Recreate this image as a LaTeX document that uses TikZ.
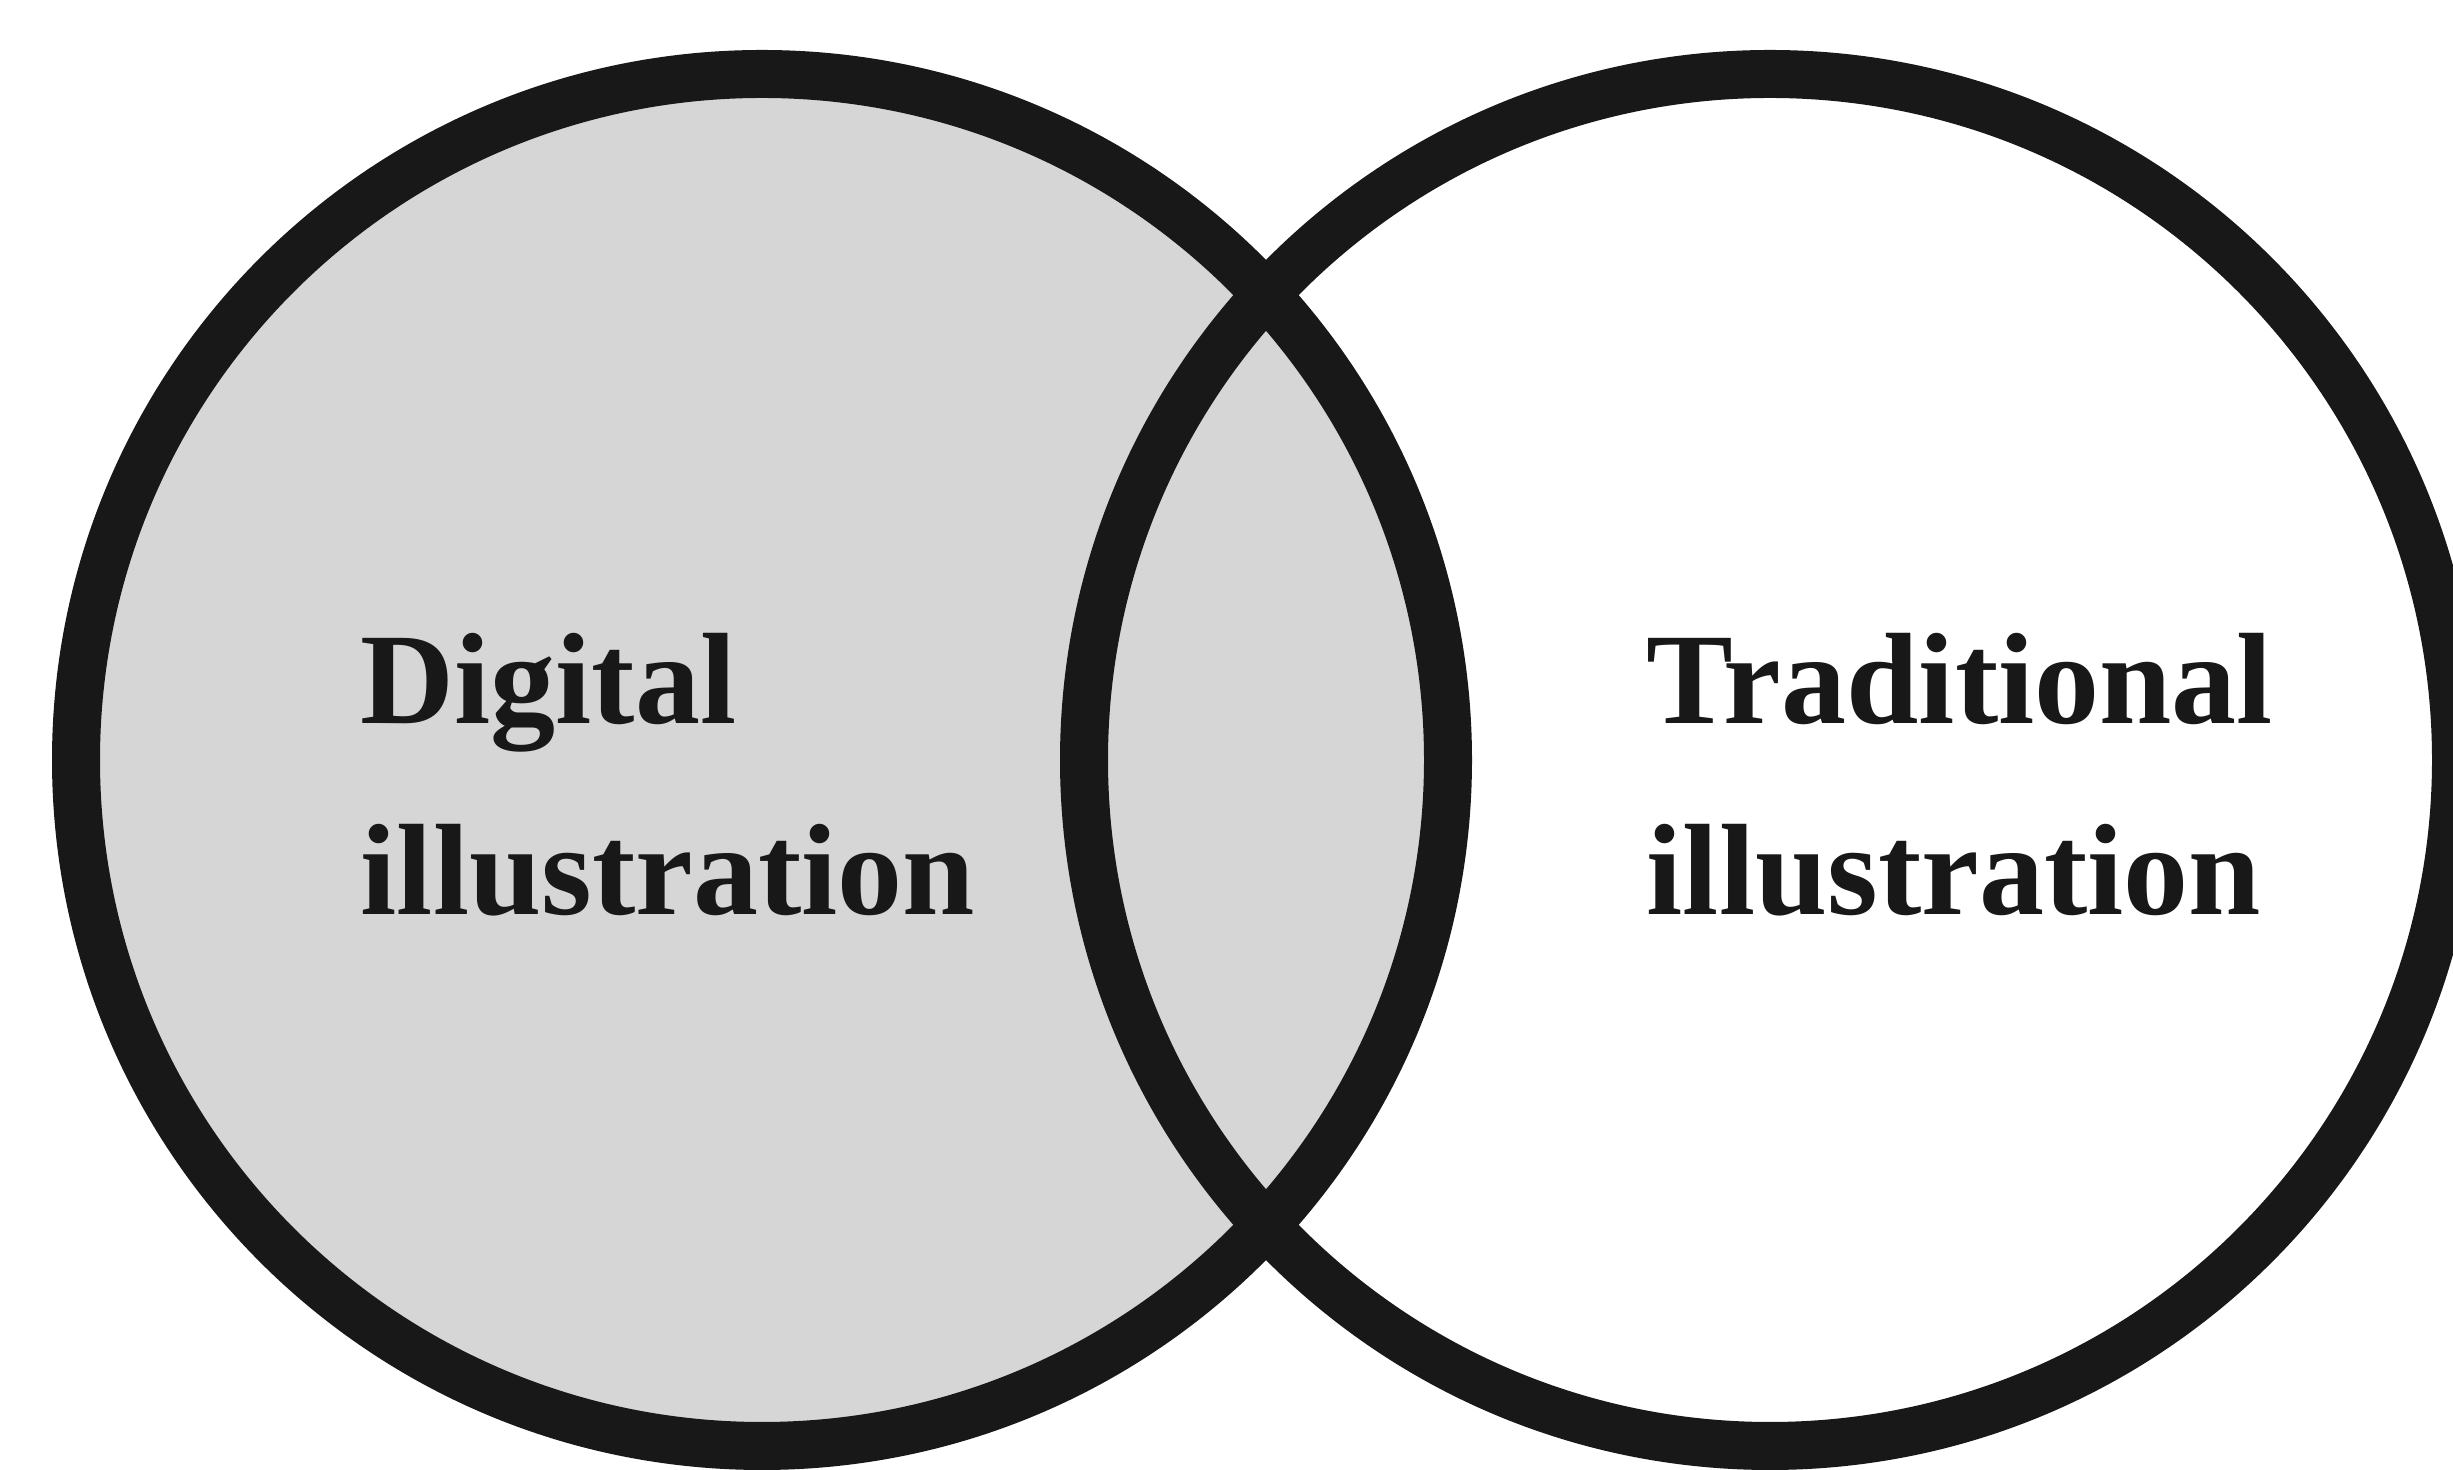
\documentclass[tikz,border=0pt]{standalone}
\usepackage{fontspec}
\setmainfont{Liberation Serif}
\definecolor{shade}{RGB}{214,214,214}
\definecolor{ink}{RGB}{24,24,24}
\tikzset{
  setring/.style={circle, draw=ink, line width=0.48cm, minimum size=13.72cm, inner sep=0pt},
  settext/.style={font=\bfseries\fontsize{37}{44}\selectfont, text=ink, anchor=base west, inner sep=0pt}
}
\begin{document}
\begin{tikzpicture}
\useasboundingbox (0,0) rectangle (24.53,14.70);
\clip (0,0) rectangle (24.53,14.70);
\fill[white] (0,0) rectangle (24.53,14.70);
% the two sets
\node[setring, fill=shade] (digital) at (7.62,7.10) {};
\node[setring] (traditional) at (17.70,7.10) {};
% labels
\node[settext] (dig1) at (3.60,7.46) {Digital};
\node[settext] (dig2) at (3.60,5.55) {illustration};
\node[settext] (trad1) at (16.46,7.46) {Traditional};
\node[settext] (trad2) at (16.46,5.55) {illustration};
\end{tikzpicture}
\end{document}
